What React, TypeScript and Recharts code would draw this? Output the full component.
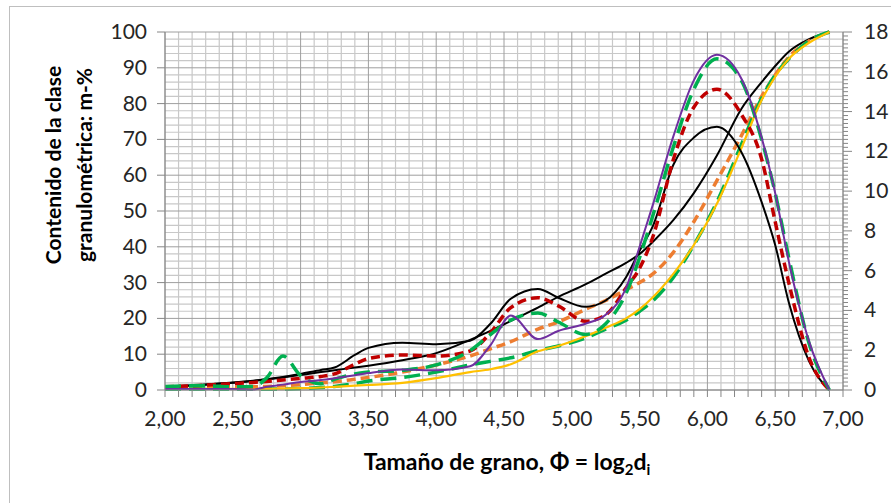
import React from "react"
import { ComposedChart, Line, XAxis, YAxis, CartesianGrid } from "recharts"

// tamaño de grano (phi) donde se leyeron los valores
const phi = [2.0, 2.25, 2.5, 2.65, 2.75, 2.87, 3.0, 3.15, 3.25, 3.4, 3.5, 3.75, 4.0, 4.25, 4.4, 4.55, 4.75, 4.9, 5.1, 5.25, 5.4, 5.5, 5.6, 5.75, 5.9, 6.07, 6.25, 6.4, 6.5, 6.6, 6.75, 6.9]

// curvas acumuladas (eje izquierdo, m-%)
const blackCum = [0.9, 1.4, 2.0, 2.5, 3.0, 3.5, 4.2, 5.0, 5.5, 6.3, 6.8, 8.3, 10.3, 14.0, 16.5, 19.3, 23.0, 26.0, 29.5, 32.5, 35.5, 38.0, 41.5, 47.5, 55.0, 65.5, 78.5, 86.0, 90.5, 94.5, 98.0, 100]
const orangeCum = [0.5, 0.6, 0.8, 0.9, 1.0, 1.2, 1.5, 2.0, 2.3, 3.0, 3.5, 5.0, 7.0, 9.5, 11.5, 13.5, 17.0, 19.0, 22.5, 25.0, 28.0, 30.0, 32.5, 38.5, 47.0, 58.5, 71.0, 82.0, 88.0, 93.0, 97.5, 100]
const greenCum = [0.3, 0.3, 0.3, 0.3, 0.3, 0.3, 0.4, 0.7, 1.0, 1.8, 2.5, 3.5, 5.0, 7.0, 8.0, 9.0, 11.0, 12.3, 14.5, 17.0, 19.5, 22.0, 25.0, 31.5, 40.5, 52.5, 68.5, 81.5, 88.0, 92.5, 97.5, 100]
const yellowCum = [0.3, 0.3, 0.3, 0.3, 0.3, 0.4, 0.5, 0.7, 0.9, 1.2, 1.4, 2.0, 3.3, 5.0, 5.8, 7.2, 10.8, 12.3, 15.0, 17.4, 20.0, 22.6, 26.0, 32.5, 40.5, 52.0, 67.5, 81.0, 87.5, 92.5, 97.0, 100]

// curvas de frecuencia (eje derecho, %)
const blackFreq = [0.16, 0.25, 0.38, 0.47, 0.54, 0.65, 0.81, 1.01, 1.13, 1.76, 2.12, 2.38, 2.3, 2.48, 3.33, 4.59, 5.08, 4.64, 4.18, 4.5, 5.67, 7.0, 8.28, 11.34, 12.69, 13.23, 11.97, 9.45, 7.29, 4.41, 1.44, 0]
const redFreq = [0.16, 0.23, 0.32, 0.38, 0.43, 0.5, 0.58, 0.68, 0.81, 1.3, 1.58, 1.76, 1.71, 1.96, 2.88, 4.14, 4.64, 4.23, 3.46, 3.78, 5.13, 6.12, 7.74, 11.61, 14.22, 15.12, 13.86, 11.61, 8.46, 5.4, 1.62, 0]
const greenFreq = [0.18, 0.22, 0.16, 0.18, 0.61, 1.71, 0.72, 0.32, 0.54, 0.81, 0.9, 0.99, 1.26, 1.98, 2.79, 3.51, 3.87, 3.42, 2.79, 3.33, 4.86, 6.66, 8.82, 12.24, 15.12, 16.65, 15.57, 12.6, 9.9, 6.66, 2.34, 0]
const purpleFreq = [0.05, 0.05, 0.05, 0.02, 0.16, 0.27, 0.4, 0.5, 0.59, 0.74, 0.85, 1.03, 0.99, 1.19, 2.25, 3.74, 2.56, 2.97, 3.33, 3.78, 5.13, 7.2, 9.36, 12.78, 15.57, 16.85, 15.66, 12.69, 9.9, 6.48, 2.43, 0]

const X_DOMAIN = [2, 7]
const LEFT_DOMAIN = [0, 100]
const leftTicks = [0, 10, 20, 30, 40, 50, 60, 70, 80, 90, 100]
const xTicks = Array.from({ length: 51 }, (_, i) => (20 + i) / 10)
const rightTicks = Array.from({ length: 91 }, (_, i) => i / 5)
const xMajor = xTicks.filter((_, i) => i % 5 === 0)
const xMinor = xTicks.filter((_, i) => i % 5 !== 0)
const yMinor = Array.from({ length: 51 }, (_, i) => i * 2).filter((v) => v % 10 !== 0)

const data = phi.map((p, i) => ({
  phi: p,
  blackCum: blackCum[i],
  orangeCum: orangeCum[i],
  greenCum: greenCum[i],
  yellowCum: yellowCum[i],
  blackFreq: blackFreq[i],
  redFreq: redFreq[i],
  greenFreq: greenFreq[i],
  purpleFreq: purpleFreq[i],
}))

const FONT = "Lato, 'Open Sans', sans-serif"
const TICK_COLOR = "#262626"
const AXIS_COLOR = "#868686"

function XTick({ x, y, payload }: any) {
  const v = payload.value
  const major = Math.round(v * 10) % 5 === 0
  return (
    <g>
      <line x1={x} x2={x} y1={y} y2={y + 7} stroke={AXIS_COLOR} />
      {major && (
        <text x={x} y={y + 36} textAnchor="middle" fontSize={21} fill={TICK_COLOR} fontFamily={FONT}>
          {v.toFixed(2).replace(".", ",")}
        </text>
      )}
    </g>
  )
}

function LeftTick({ x, y, payload }: any) {
  return (
    <g>
      <line x1={x - 8} x2={x} y1={y} y2={y} stroke={AXIS_COLOR} />
      <text x={x - 18} y={y + 7} textAnchor="end" fontSize={21} fill={TICK_COLOR} fontFamily={FONT}>
        {payload.value}
      </text>
    </g>
  )
}

function RightTick({ x, y, payload, index }: any) {
  const major = index % 10 === 0
  return (
    <g>
      <line x1={x} x2={x + (major ? 9 : 5)} y1={y} y2={y} stroke={AXIS_COLOR} />
      {major && (
        <text x={x + 21} y={y + 7} textAnchor="start" fontSize={21} fill={TICK_COLOR} fontFamily={FONT}>
          {Math.round(payload.value)}
        </text>
      )}
    </g>
  )
}

// grid lines placed from the plot area offset and the axis domains
const gridX = (values: number[]) => ({ xAxis, offset }: any) =>
  values.map((v) =>
    xAxis && typeof xAxis.scale === "function"
      ? xAxis.scale(v)
      : offset.left + ((v - X_DOMAIN[0]) / (X_DOMAIN[1] - X_DOMAIN[0])) * offset.width
  )
const gridY = (values: number[]) => ({ yAxis, offset }: any) =>
  values.map((v) =>
    yAxis && typeof yAxis.scale === "function"
      ? yAxis.scale(v)
      : offset.top + (1 - (v - LEFT_DOMAIN[0]) / (LEFT_DOMAIN[1] - LEFT_DOMAIN[0])) * offset.height
  )

export default function App() {
  return (
    <div style={{ position: "absolute", left: 0, top: 0, width: 891, height: 503, overflow: "hidden", background: "#fff" }}>
      <div style={{ position: "absolute", left: 9, top: 6, width: 900, height: 600, border: "1px solid #bfbfbf" }} />
      <div style={{ position: "absolute", left: 0, top: 0 }}>
        <ComposedChart width={891} height={503} data={data} margin={{ top: 32, right: 0, bottom: 73, left: 105 }}>
          <CartesianGrid
            yAxisId="left"
            stroke="#c8c8c8"
            strokeWidth={1.2}
            verticalCoordinatesGenerator={gridX(xMinor)}
            horizontalCoordinatesGenerator={gridY(yMinor)}
          />
          <CartesianGrid
            yAxisId="left"
            stroke="#9e9e9e"
            verticalCoordinatesGenerator={gridX(xMajor)}
            horizontalCoordinatesGenerator={gridY(leftTicks)}
          />
          <XAxis
            dataKey="phi"
            type="number"
            domain={X_DOMAIN}
            ticks={xTicks}
            interval={0}
            height={40}
            tickSize={0}
            tickMargin={0}
            tickLine={false}
            axisLine={{ stroke: AXIS_COLOR }}
            tick={<XTick />}
            allowDataOverflow
          />
          <YAxis
            yAxisId="left"
            domain={LEFT_DOMAIN}
            ticks={leftTicks}
            interval={0}
            width={60}
            tickSize={0}
            tickMargin={0}
            tickLine={false}
            axisLine={{ stroke: AXIS_COLOR }}
            tick={<LeftTick />}
          />
          <YAxis
            yAxisId="right"
            orientation="right"
            domain={[0, 18]}
            ticks={rightTicks}
            interval={0}
            width={48}
            tickSize={0}
            tickMargin={0}
            tickLine={false}
            axisLine={{ stroke: AXIS_COLOR }}
            tick={<RightTick />}
          />
          <Line yAxisId="left" type="monotone" dataKey="blackCum" stroke="#000000" strokeWidth={2} dot={false} activeDot={false} isAnimationActive={false} />
          <Line yAxisId="left" type="monotone" dataKey="orangeCum" stroke="#ed7d31" strokeWidth={3.5} strokeDasharray="9 5" dot={false} activeDot={false} isAnimationActive={false} />
          <Line yAxisId="left" type="monotone" dataKey="greenCum" stroke="#00b050" strokeWidth={3.5} strokeDasharray="16 8" dot={false} activeDot={false} isAnimationActive={false} />
          <Line yAxisId="left" type="monotone" dataKey="yellowCum" stroke="#ffc000" strokeWidth={2.2} dot={false} activeDot={false} isAnimationActive={false} />
          <Line yAxisId="right" type="monotone" dataKey="blackFreq" stroke="#000000" strokeWidth={2} dot={false} activeDot={false} isAnimationActive={false} />
          <Line yAxisId="right" type="monotone" dataKey="redFreq" stroke="#c00000" strokeWidth={3.5} strokeDasharray="9 5" dot={false} activeDot={false} isAnimationActive={false} />
          <Line yAxisId="right" type="monotone" dataKey="greenFreq" stroke="#00b050" strokeWidth={3.5} strokeDasharray="16 8" dot={false} activeDot={false} isAnimationActive={false} />
          <Line yAxisId="right" type="monotone" dataKey="purpleFreq" stroke="#7030a0" strokeWidth={2} dot={false} activeDot={false} isAnimationActive={false} />
        </ComposedChart>
      </div>
      <svg width={891} height={503} style={{ position: "absolute", left: 0, top: 0, pointerEvents: "none" }}>
        <text x={507} y={470} textAnchor="middle" fontSize={23} fontWeight="bold" fill="#000" fontFamily={FONT}>
          Tamaño de grano, Φ = log<tspan fontSize={15} dy={5}>2</tspan>
          <tspan dy={-5}>d</tspan>
          <tspan fontSize={15} dy={5}>i</tspan>
        </text>
        <g fontSize={21} fontWeight="bold" fill="#000" fontFamily={FONT} textAnchor="middle">
          <text transform="translate(52,165) rotate(-90)" dominantBaseline="central">Contenido de la clase</text>
          <text transform="translate(83,165) rotate(-90)" dominantBaseline="central">granulométrica: m-%</text>
        </g>
      </svg>
    </div>
  )
}
